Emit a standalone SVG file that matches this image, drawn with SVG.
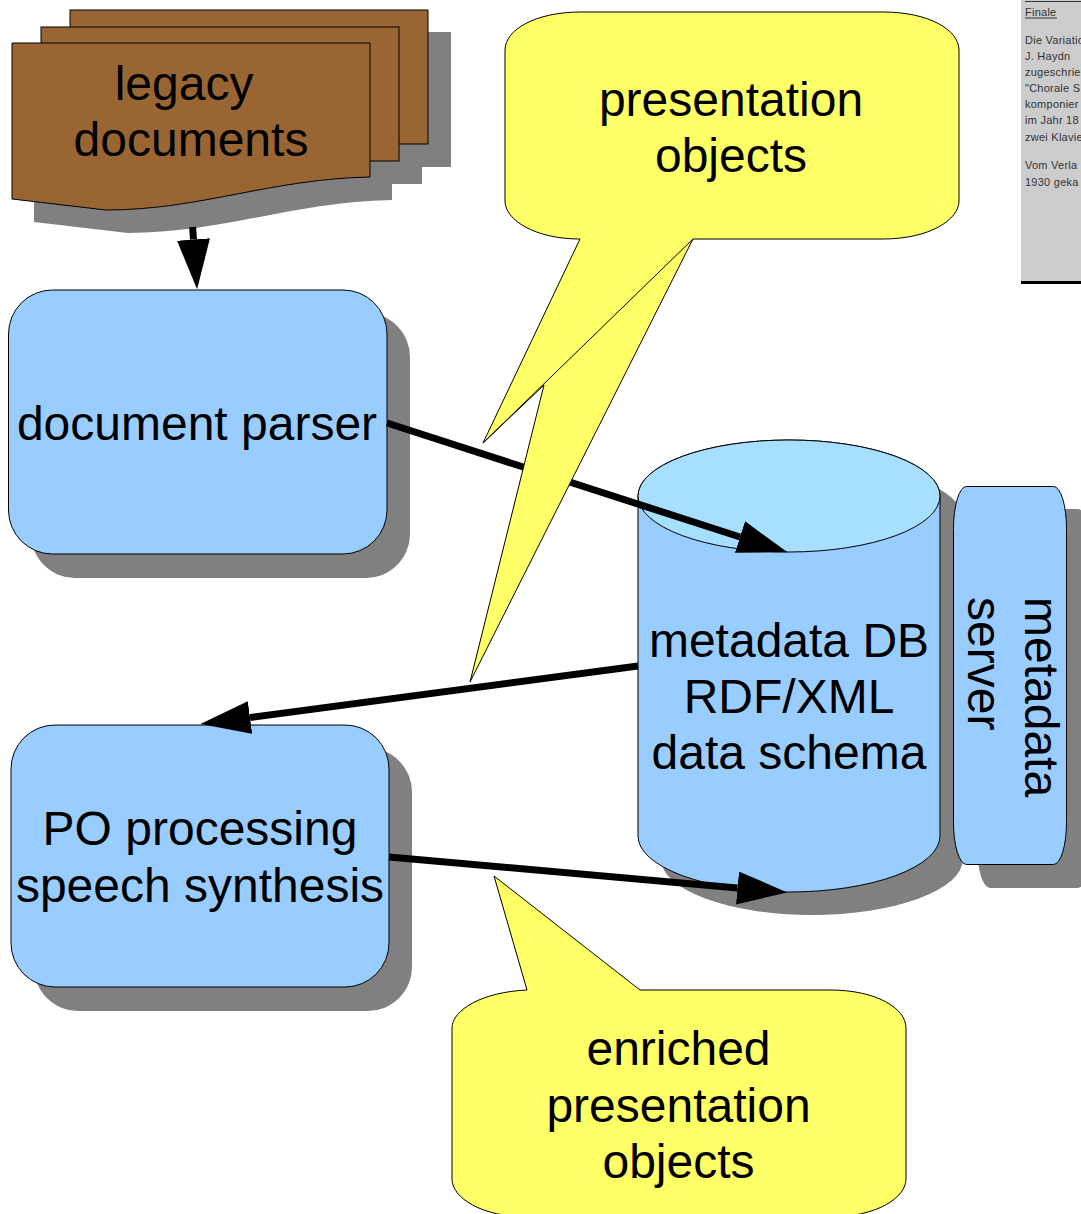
<svg xmlns="http://www.w3.org/2000/svg" width="1081" height="1214" viewBox="0 0 1081 1214">
<style>
.t{font-family:"Liberation Sans",Arial,sans-serif;font-size:48px;fill:#000;text-anchor:middle}
.l{text-anchor:start}
.s{font-family:"Liberation Sans",Arial,sans-serif;font-size:11px;fill:#333;letter-spacing:.25px}
.sh{fill:#808080}
.b{fill:#99ccff;stroke:#000;stroke-width:1}
.d{fill:#996633;stroke:#000;stroke-width:1}
.y{fill:#ffff66;stroke:#000;stroke-width:1}
.c{fill:none;stroke:#000;stroke-width:7;marker-end:url(#a)}
</style>
<defs>
<marker id="a" markerUnits="userSpaceOnUse" markerWidth="52" markerHeight="34" refX="0" refY="16.5" orient="auto"><path d="M0 0L50 16.5L0 33Z" fill="#000"/></marker>
<path id="front" d="M12 43H370V177C270 179 200 210 106 210L12 199Z"/>
</defs>
<rect width="1081" height="1214" fill="#fff"/>
<g id="page-thumbnail">
<rect x="1021" y="0" width="60" height="282" fill="#cccccc"/>
<rect x="1021" y="281" width="60" height="3" fill="#000"/>
<rect x="1025" y="1" width="56" height="1" fill="#333"/>
<text class="s" x="1025" y="16">Finale</text>
<rect x="1025" y="17.500" width="32" height="1" fill="#333"/>
<text class="s" x="1025" y="44">Die Variatio</text>
<text class="s" x="1025" y="60">J. Haydn</text>
<text class="s" x="1025" y="76">zugeschrie</text>
<text class="s" x="1025" y="92">"Chorale S</text>
<text class="s" x="1025" y="108">komponier</text>
<text class="s" x="1025" y="124">im Jahr 18</text>
<text class="s" x="1025" y="141">zwei Klavie</text>
<text class="s" x="1025" y="169">Vom Verla</text>
<text class="s" x="1025" y="186">1930 geka</text>
</g>
<g id="legacy-documents">
<rect class="sh" x="92" y="32" width="359" height="135"/>
<rect class="sh" x="63" y="50" width="359" height="134"/>
<use href="#front" class="sh" transform="translate(22 23)"/>
<rect class="d" x="70" y="10" width="358" height="134"/>
<rect class="d" x="41" y="27" width="358" height="134"/>
<use href="#front" class="d"/>
<text class="t" x="184" y="100">legacy</text>
<text class="t" x="191" y="156">documents</text>
</g>
<g id="document-parser">
<rect class="sh" x="31" y="313" width="379" height="265" rx="44" ry="44"/>
<rect class="b" x="8.500" y="290" width="378.500" height="264" rx="44" ry="44"/>
<text class="t" x="197" y="440">document parser</text>
</g>
<g id="po-processing">
<rect class="sh" x="34" y="748" width="378" height="263" rx="44" ry="44"/>
<rect class="b" x="11" y="725" width="378" height="262" rx="44" ry="44"/>
<text class="t" x="200" y="845">PO processing</text>
<text class="t" x="200" y="902">speech synthesis</text>
</g>
<g id="metadata-db">
<path class="sh" d="M661 519A151 56 0 0 1 963 519V859A151 56 0 0 1 661 859Z"/>
<path class="b" d="M638 496A151 56 0 0 1 940 496V836A151 56 0 0 1 638 836Z"/>
<ellipse cx="789" cy="496" rx="151" ry="56" fill="#a6dfff" stroke="#000" stroke-width="1"/>
<text class="t" x="789" y="657">metadata DB</text>
<text class="t" x="789" y="713">RDF/XML</text>
<text class="t" x="789" y="769">data schema</text>
</g>
<g id="metadata-server">
<rect class="sh" x="977" y="509" width="114" height="379" rx="13" ry="42"/>
<rect class="b" x="953.500" y="486.500" width="113" height="378" rx="13" ry="42"/>
<text class="t l" transform="translate(1024.500 597) rotate(90)">metadata</text>
<text class="t l" transform="translate(967.500 597) rotate(90)">server</text>
</g>
<g id="connectors">
<path class="c" d="M192.600 227L193.500 239.500"/>
<path class="c" d="M387 423L740 537"/>
<path class="c" d="M638 666L250 717.500"/>
<path class="c" d="M389 857L737.500 888"/>
</g>
<g id="callout-presentation-objects">
<path class="y" d="M580 239C535 239 505 220 505 201V50C505 30 535 12 581 12H883C929 12 959 30 959 50V201C959 220 929 239 883 239H693L470 682L544 385L483 443Z"/>
<path d="M693 239L483 443" fill="none" stroke="#000" stroke-width="1"/>
<text class="t" x="731" y="116">presentation</text>
<text class="t" x="731" y="172">objects</text>
</g>
<g id="callout-enriched">
<path class="y" d="M527 990C482 992 452 1010 452 1028V1179C452 1198 482 1217 528 1217H830C876 1217 906 1198 906 1179V1028C906 1008 876 990 830 990H640L494 876Z"/>
<text class="t" x="678.500" y="1065">enriched</text>
<text class="t" x="678.500" y="1122">presentation</text>
<text class="t" x="678.500" y="1178">objects</text>
</g>
</svg>
